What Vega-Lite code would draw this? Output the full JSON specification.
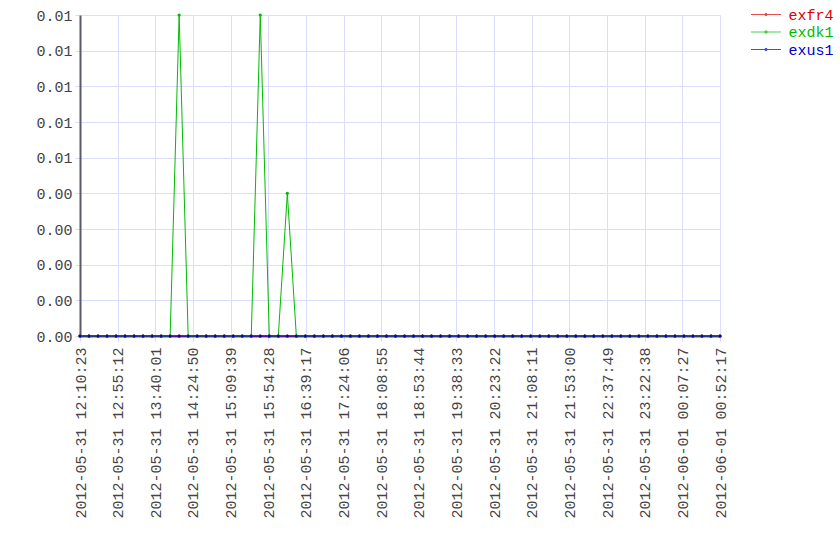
{
  "$schema": "https://vega.github.io/schema/vega-lite/v6.json",
  "width": 640,
  "height": 321,
  "autosize": {"type": "none"},
  "padding": {"left": 80, "top": 15, "right": 120, "bottom": 224},
  "background": "white",
  "config": {"view": {"stroke": null}, "font": "Liberation Mono"},
  "data": {"values": [
    {"t": "2012-05-31T12:10:23", "exfr4": 0, "exdk1": 0, "exus1": 0},
    {"t": "2012-05-31T12:21:07", "exfr4": 0, "exdk1": 0, "exus1": 0},
    {"t": "2012-05-31T12:31:51", "exfr4": 0, "exdk1": 0, "exus1": 0},
    {"t": "2012-05-31T12:42:35", "exfr4": 0, "exdk1": 0, "exus1": 0},
    {"t": "2012-05-31T12:53:18", "exfr4": 0, "exdk1": 0, "exus1": 0},
    {"t": "2012-05-31T13:04:02", "exfr4": 0, "exdk1": 0, "exus1": 0},
    {"t": "2012-05-31T13:14:46", "exfr4": 0, "exdk1": 0, "exus1": 0},
    {"t": "2012-05-31T13:25:30", "exfr4": 0, "exdk1": 0, "exus1": 0},
    {"t": "2012-05-31T13:36:14", "exfr4": 0, "exdk1": 0, "exus1": 0},
    {"t": "2012-05-31T13:46:58", "exfr4": 0, "exdk1": 0, "exus1": 0},
    {"t": "2012-05-31T13:57:42", "exfr4": 0, "exdk1": 0, "exus1": 0},
    {"t": "2012-05-31T14:08:25", "exfr4": 0, "exdk1": 0.009, "exus1": 0},
    {"t": "2012-05-31T14:19:09", "exfr4": 0, "exdk1": 0, "exus1": 0},
    {"t": "2012-05-31T14:29:53", "exfr4": 0, "exdk1": 0, "exus1": 0},
    {"t": "2012-05-31T14:40:37", "exfr4": 0, "exdk1": 0, "exus1": 0},
    {"t": "2012-05-31T14:51:21", "exfr4": 0, "exdk1": 0, "exus1": 0},
    {"t": "2012-05-31T15:02:05", "exfr4": 0, "exdk1": 0, "exus1": 0},
    {"t": "2012-05-31T15:12:49", "exfr4": 0, "exdk1": 0, "exus1": 0},
    {"t": "2012-05-31T15:23:32", "exfr4": 0, "exdk1": 0, "exus1": 0},
    {"t": "2012-05-31T15:34:16", "exfr4": 0, "exdk1": 0, "exus1": 0},
    {"t": "2012-05-31T15:45:00", "exfr4": 0, "exdk1": 0.009, "exus1": 0},
    {"t": "2012-05-31T15:55:44", "exfr4": 0, "exdk1": 0, "exus1": 0},
    {"t": "2012-05-31T16:06:28", "exfr4": 0, "exdk1": 0, "exus1": 0},
    {"t": "2012-05-31T16:17:12", "exfr4": 0, "exdk1": 0.004, "exus1": 0},
    {"t": "2012-05-31T16:27:56", "exfr4": 0, "exdk1": 0, "exus1": 0},
    {"t": "2012-05-31T16:38:39", "exfr4": 0, "exdk1": 0, "exus1": 0},
    {"t": "2012-05-31T16:49:23", "exfr4": 0, "exdk1": 0, "exus1": 0},
    {"t": "2012-05-31T17:00:07", "exfr4": 0, "exdk1": 0, "exus1": 0},
    {"t": "2012-05-31T17:10:51", "exfr4": 0, "exdk1": 0, "exus1": 0},
    {"t": "2012-05-31T17:21:35", "exfr4": 0, "exdk1": 0, "exus1": 0},
    {"t": "2012-05-31T17:32:19", "exfr4": 0, "exdk1": 0, "exus1": 0},
    {"t": "2012-05-31T17:43:03", "exfr4": 0, "exdk1": 0, "exus1": 0},
    {"t": "2012-05-31T17:53:46", "exfr4": 0, "exdk1": 0, "exus1": 0},
    {"t": "2012-05-31T18:04:30", "exfr4": 0, "exdk1": 0, "exus1": 0},
    {"t": "2012-05-31T18:15:14", "exfr4": 0, "exdk1": 0, "exus1": 0},
    {"t": "2012-05-31T18:25:58", "exfr4": 0, "exdk1": 0, "exus1": 0},
    {"t": "2012-05-31T18:36:42", "exfr4": 0, "exdk1": 0, "exus1": 0},
    {"t": "2012-05-31T18:47:26", "exfr4": 0, "exdk1": 0, "exus1": 0},
    {"t": "2012-05-31T18:58:10", "exfr4": 0, "exdk1": 0, "exus1": 0},
    {"t": "2012-05-31T19:08:53", "exfr4": 0, "exdk1": 0, "exus1": 0},
    {"t": "2012-05-31T19:19:37", "exfr4": 0, "exdk1": 0, "exus1": 0},
    {"t": "2012-05-31T19:30:21", "exfr4": 0, "exdk1": 0, "exus1": 0},
    {"t": "2012-05-31T19:41:05", "exfr4": 0, "exdk1": 0, "exus1": 0},
    {"t": "2012-05-31T19:51:49", "exfr4": 0, "exdk1": 0, "exus1": 0},
    {"t": "2012-05-31T20:02:33", "exfr4": 0, "exdk1": 0, "exus1": 0},
    {"t": "2012-05-31T20:13:17", "exfr4": 0, "exdk1": 0, "exus1": 0},
    {"t": "2012-05-31T20:24:01", "exfr4": 0, "exdk1": 0, "exus1": 0},
    {"t": "2012-05-31T20:34:44", "exfr4": 0, "exdk1": 0, "exus1": 0},
    {"t": "2012-05-31T20:45:28", "exfr4": 0, "exdk1": 0, "exus1": 0},
    {"t": "2012-05-31T20:56:12", "exfr4": 0, "exdk1": 0, "exus1": 0},
    {"t": "2012-05-31T21:06:56", "exfr4": 0, "exdk1": 0, "exus1": 0},
    {"t": "2012-05-31T21:17:40", "exfr4": 0, "exdk1": 0, "exus1": 0},
    {"t": "2012-05-31T21:28:24", "exfr4": 0, "exdk1": 0, "exus1": 0},
    {"t": "2012-05-31T21:39:08", "exfr4": 0, "exdk1": 0, "exus1": 0},
    {"t": "2012-05-31T21:49:51", "exfr4": 0, "exdk1": 0, "exus1": 0},
    {"t": "2012-05-31T22:00:35", "exfr4": 0, "exdk1": 0, "exus1": 0},
    {"t": "2012-05-31T22:11:19", "exfr4": 0, "exdk1": 0, "exus1": 0},
    {"t": "2012-05-31T22:22:03", "exfr4": 0, "exdk1": 0, "exus1": 0},
    {"t": "2012-05-31T22:32:47", "exfr4": 0, "exdk1": 0, "exus1": 0},
    {"t": "2012-05-31T22:43:31", "exfr4": 0, "exdk1": 0, "exus1": 0},
    {"t": "2012-05-31T22:54:15", "exfr4": 0, "exdk1": 0, "exus1": 0},
    {"t": "2012-05-31T23:04:58", "exfr4": 0, "exdk1": 0, "exus1": 0},
    {"t": "2012-05-31T23:15:42", "exfr4": 0, "exdk1": 0, "exus1": 0},
    {"t": "2012-05-31T23:26:26", "exfr4": 0, "exdk1": 0, "exus1": 0},
    {"t": "2012-05-31T23:37:10", "exfr4": 0, "exdk1": 0, "exus1": 0},
    {"t": "2012-05-31T23:47:54", "exfr4": 0, "exdk1": 0, "exus1": 0},
    {"t": "2012-05-31T23:58:38", "exfr4": 0, "exdk1": 0, "exus1": 0},
    {"t": "2012-06-01T00:09:22", "exfr4": 0, "exdk1": 0, "exus1": 0},
    {"t": "2012-06-01T00:20:05", "exfr4": 0, "exdk1": 0, "exus1": 0},
    {"t": "2012-06-01T00:30:49", "exfr4": 0, "exdk1": 0, "exus1": 0},
    {"t": "2012-06-01T00:41:33", "exfr4": 0, "exdk1": 0, "exus1": 0},
    {"t": "2012-06-01T00:52:17", "exfr4": 0, "exdk1": 0, "exus1": 0}
  ]},
  "transform": [{"fold": ["exfr4", "exdk1", "exus1"], "as": ["series", "value"]}],
  "mark": {"type": "line", "strokeWidth": 1, "point": {"filled": true, "size": 10}},
  "encoding": {
    "x": {
      "field": "t", "type": "temporal",
      "scale": {"nice": false},
      "axis": {
        "title": null,
        "format": "%Y-%m-%d %H:%M:%S",
        "values": [
          {"year": 2012, "month": 5, "date": 31, "hours": 12, "minutes": 10, "seconds": 23},
          {"year": 2012, "month": 5, "date": 31, "hours": 12, "minutes": 55, "seconds": 12},
          {"year": 2012, "month": 5, "date": 31, "hours": 13, "minutes": 40, "seconds": 1},
          {"year": 2012, "month": 5, "date": 31, "hours": 14, "minutes": 24, "seconds": 50},
          {"year": 2012, "month": 5, "date": 31, "hours": 15, "minutes": 9, "seconds": 39},
          {"year": 2012, "month": 5, "date": 31, "hours": 15, "minutes": 54, "seconds": 28},
          {"year": 2012, "month": 5, "date": 31, "hours": 16, "minutes": 39, "seconds": 17},
          {"year": 2012, "month": 5, "date": 31, "hours": 17, "minutes": 24, "seconds": 6},
          {"year": 2012, "month": 5, "date": 31, "hours": 18, "minutes": 8, "seconds": 55},
          {"year": 2012, "month": 5, "date": 31, "hours": 18, "minutes": 53, "seconds": 44},
          {"year": 2012, "month": 5, "date": 31, "hours": 19, "minutes": 38, "seconds": 33},
          {"year": 2012, "month": 5, "date": 31, "hours": 20, "minutes": 23, "seconds": 22},
          {"year": 2012, "month": 5, "date": 31, "hours": 21, "minutes": 8, "seconds": 11},
          {"year": 2012, "month": 5, "date": 31, "hours": 21, "minutes": 53, "seconds": 0},
          {"year": 2012, "month": 5, "date": 31, "hours": 22, "minutes": 37, "seconds": 49},
          {"year": 2012, "month": 5, "date": 31, "hours": 23, "minutes": 22, "seconds": 38},
          {"year": 2012, "month": 6, "date": 1, "hours": 0, "minutes": 7, "seconds": 27},
          {"year": 2012, "month": 6, "date": 1, "hours": 0, "minutes": 52, "seconds": 17}
        ],
        "labelAngle": 270,
        "labelFlush": false,
        "labelBound": false,
        "labelOverlap": false,
        "labelFont": "Liberation Mono",
        "labelFontSize": 15,
        "labelColor": "#444444",
        "labelPadding": 6,
        "tickSize": 5,
        "tickColor": "#d8d8fa",
        "grid": true,
        "gridColor": "#dcdcfc",
        "gridOpacity": 1,
        "domainColor": "#5a5a68",
        "domainWidth": 2
      }
    },
    "y": {
      "field": "value", "type": "quantitative",
      "scale": {"domain": [0, 0.009], "nice": false},
      "axis": {
        "title": null,
        "values": [0, 0.001, 0.002, 0.003, 0.004, 0.005, 0.006, 0.007, 0.008, 0.009],
        "format": ".2f",
        "labelFont": "Liberation Mono",
        "labelFontSize": 15,
        "labelColor": "#444444",
        "labelPadding": 3,
        "tickSize": 5,
        "tickColor": "#d8d8fa",
        "grid": true,
        "gridColor": "#dcdcfc",
        "gridOpacity": 1,
        "domainColor": "#5a5a68",
        "domainWidth": 2
      }
    },
    "color": {
      "field": "series", "type": "nominal",
      "scale": {"domain": ["exfr4", "exdk1", "exus1"], "range": ["#dd0000", "#00bb00", "#0000cc"]},
      "legend": {
        "title": null,
        "orient": "none",
        "legendX": 678.5,
        "legendY": -8,
        "padding": 0,
        "symbolType": "M-3,0L3,0M-0.25,0A0.25,0.25,0,1,1,0.25,0A0.25,0.25,0,1,1,-0.25,0",
        "symbolSize": 100,
        "symbolStrokeWidth": 1,
        "symbolStrokeColor": {"expr": "scale('color', datum.value)"},
        "symbolFillColor": {"expr": "scale('color', datum.value)"},
        "symbolOpacity": 0.7,
        "labelFont": "Liberation Mono",
        "labelFontSize": 15,
        "labelOffset": 15,
        "rowPadding": 1.5,
        "labelColor": {"expr": "scale('color', datum.value)"}
      }
    }
  }
}
